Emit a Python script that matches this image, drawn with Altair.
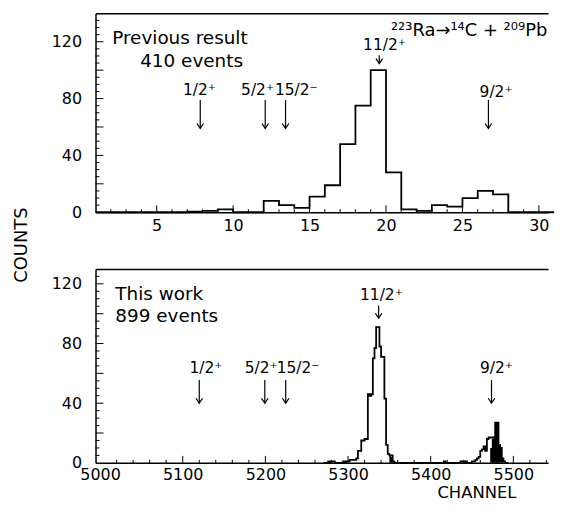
import altair as alt
import pandas as pd

FONT = "DejaVu Sans"

# ---------------- data ----------------
# Previous result: unit-wide bins, left edges 1..30
prev_bin_start = 1
prev_bin_width = 1
prev_counts = [0, 0, 0, 0, 0, 0, 0.5, 1, 2, 0, 0, 8, 5, 3, 11, 19, 48, 75, 100, 28,
               2, 1, 5, 4, 10, 15, 12.5, 0, 0, 0]

# This work: 2-channel bins
this_bin_width = 2
this_a_start = 5270
this_a_counts = [0, 0, 0, 1, 0, 1, 1, 0, 0, 0, 0, 0, 1, 0, 1, 1, 2, 2, 2, 2,
                 3, 8, 8, 15, 15, 16, 16, 46, 45, 46, 70, 77, 91, 91, 78, 71, 71, 43, 12, 6,
                 5, 5, 1, 0, 0]
this_b_start = 5410
this_b_counts = [0, 0, 0, 1, 0, 0, 0, 0, 0, 0, 0, 0, 0, 1, 1, 0, 1, 0, 0, 0,
                 1, 1, 2, 3, 4, 8, 9, 11, 8, 16, 17, 17, 17, 17, 27, 27, 12, 10, 3, 1,
                 0, 0]
# filled (black) part of the spectrum
fill_a_start = 5350
fill_a_counts = [5, 4]
fill_b_start = 5472
fill_b_counts = [10, 16, 17, 27, 27, 12, 10, 3]

# level labels and arrows
states = ["1/2⁺", "5/2⁺", "15/2⁻", "11/2⁺", "9/2⁺"]
prev_arrow_x = [7.85, 12.1, 13.43, 19.56, 26.7]
prev_arrow_top = [79, 79, 79, 110.4, 79]
prev_arrow_tip = [59, 59, 59, 104.6, 59]
prev_label_x = [7.8, 11.6, 14.13, 19.9, 27.2]
prev_label_y = [82.4, 82.4, 82.4, 113.9, 81.2]

this_arrow_x = [5120, 5199.3, 5224.6, 5337, 5473.6]
this_arrow_top = [55.5, 55.5, 55.5, 105.5, 55.5]
this_arrow_tip = [40, 40, 40, 97, 40]
this_label_x = [5128, 5195, 5239.5, 5340.4, 5479.6]
this_label_y = [60, 60, 60, 108.9, 60]

prev_texts = ["Previous result", "410 events"]
prev_text_x = [2.09, 3.92]
prev_text_y = [118.3, 102.2]
reaction_text = "²²³Ra→¹⁴C + ²⁰⁹Pb"
reaction_x = 30.55
reaction_y = 123.7

this_texts = ["This work", "899 events"]
this_text_x = [5018.5, 5018.5]
this_text_y = [108.9, 94.5]

prev_x_labels = [5, 10, 15, 20, 25, 30]
this_x_labels = [5000, 5100, 5200, 5300, 5400, 5500]
y_labels = [0, 40, 80, 120]

prev_xdom = [1, 30.6]
prev_ydom = [0, 140]
this_xdom = [4994.5, 5542]
this_ydom = [0, 130]

W = 455
H_TOP = 200
H_BOT = 195


def step_df(start, width, counts):
    edges = [start + i * width for i in range(len(counts) + 1)]
    return pd.DataFrame({"x": edges, "c": list(counts) + [0]})


prev_hist = step_df(prev_bin_start, prev_bin_width, prev_counts)
this_hist = pd.concat([step_df(this_a_start, this_bin_width, this_a_counts),
                       step_df(this_b_start, this_bin_width, this_b_counts)])
this_fill = pd.concat([step_df(fill_a_start, this_bin_width, fill_a_counts),
                       step_df(fill_b_start, this_bin_width, fill_b_counts)])

ARROW = "M-1,-1.5L0,0L1,-1.5"


def panel(hist, fill, xdom, ydom, h, xlabels, arrows, labels, texts, extra_text,
          xminor, xmajor, yminor, ymajor, xtitle, ytitle, xpad):
    xs = alt.Scale(domain=xdom, nice=False, zero=False)
    ys = alt.Scale(domain=ydom, nice=False, zero=False)
    xax = dict(values=xlabels, format="d", labelFlush=False, ticks=False, tickSize=0,
               labelPadding=xpad, grid=False, domain=True)
    if xtitle:
        xax.update(title=xtitle, titleX=383, titleY=34.5, titleBaseline="alphabetic",
                   titleAlign="center", titleFontSize=16.5)
    else:
        xax.update(title=None)
    yax = dict(values=y_labels, ticks=False, tickSize=0, labelPadding=14, grid=False,
               domain=True, labelFlush=False)
    if ytitle:
        yax.update(title=ytitle, titleX=-69, titleY=-24.5, titleAngle=270,
                   titleBaseline="alphabetic", titleAlign="center")
    else:
        yax.update(title=None)

    layers = []
    if fill is not None:
        layers.append(alt.Chart(fill).mark_area(interpolate="step-after", color="black")
                      .encode(x=alt.X("x:Q", scale=xs, axis=None),
                              y=alt.Y("c:Q", scale=ys, axis=None)))
    layers.append(alt.Chart(hist).mark_line(interpolate="step-after", color="black",
                                            strokeWidth=1.8)
                  .encode(x=alt.X("x:Q", scale=xs, axis=alt.Axis(**xax)),
                          y=alt.Y("c:Q", scale=ys, axis=alt.Axis(**yax))))
    # top frame line
    layers.append(alt.Chart(pd.DataFrame({"x": [xdom[0]]})).mark_point(opacity=0)
                  .encode(x=alt.X("x:Q", scale=xs,
                                  axis=alt.Axis(orient="top", labels=False, ticks=False,
                                                domain=True, title=None, grid=False,
                                                minExtent=0, maxExtent=0))))
    # inward ticks
    for vals, ln in ((xminor, 3), (xmajor, 7)):
        layers.append(alt.Chart(pd.DataFrame({"x": vals})).mark_rule(color="black",
                                                                      strokeWidth=1)
                      .encode(x=alt.X("x:Q", scale=xs, axis=None),
                              y=alt.value(h), y2=alt.value(h - ln)))
    for vals, ln in ((yminor, 4), (ymajor, 8)):
        layers.append(alt.Chart(pd.DataFrame({"y": vals})).mark_rule(color="black",
                                                                      strokeWidth=1)
                      .encode(y=alt.Y("y:Q", scale=ys, axis=None),
                              x=alt.value(0), x2=alt.value(ln)))
    # arrows
    layers.append(alt.Chart(arrows).mark_rule(color="black", strokeWidth=1.2)
                  .encode(x=alt.X("x:Q", scale=xs, axis=None),
                          y=alt.Y("top:Q", scale=ys, axis=None), y2="tip:Q"))
    layers.append(alt.Chart(arrows).mark_point(shape=ARROW, filled=False, size=44,
                                               color="black", strokeWidth=1.2, opacity=1)
                  .encode(x=alt.X("x:Q", scale=xs, axis=None),
                          y=alt.Y("tip:Q", scale=ys, axis=None)))
    layers.append(alt.Chart(labels).mark_text(font=FONT, fontSize=15.5, align="center",
                                              baseline="alphabetic", color="black")
                  .encode(x=alt.X("x:Q", scale=xs, axis=None),
                          y=alt.Y("y:Q", scale=ys, axis=None), text="t:N"))
    layers.append(alt.Chart(texts).mark_text(font=FONT, fontSize=18.5, align="left",
                                             baseline="alphabetic", color="black")
                  .encode(x=alt.X("x:Q", scale=xs, axis=None),
                          y=alt.Y("y:Q", scale=ys, axis=None), text="t:N"))
    if extra_text is not None:
        layers.append(alt.Chart(extra_text).mark_text(font=FONT, fontSize=18, align="right",
                                                      baseline="alphabetic", color="black")
                      .encode(x=alt.X("x:Q", scale=xs, axis=None),
                              y=alt.Y("y:Q", scale=ys, axis=None), text="t:N"))
    return (alt.layer(*layers)
            .resolve_axis(x="independent", y="independent")
            .properties(width=W, height=h))


prev_arrows = pd.DataFrame({"x": prev_arrow_x, "top": prev_arrow_top, "tip": prev_arrow_tip})
prev_labels = pd.DataFrame({"x": prev_label_x, "y": prev_label_y, "t": states})
prev_text_df = pd.DataFrame({"x": prev_text_x, "y": prev_text_y, "t": prev_texts})
reaction_df = pd.DataFrame({"x": [reaction_x], "y": [reaction_y], "t": [reaction_text]})

this_arrows = pd.DataFrame({"x": this_arrow_x, "top": this_arrow_top, "tip": this_arrow_tip})
this_labels = pd.DataFrame({"x": this_label_x, "y": this_label_y, "t": states})
this_text_df = pd.DataFrame({"x": this_text_x, "y": this_text_y, "t": this_texts})

top = panel(prev_hist, None, prev_xdom, prev_ydom, H_TOP, prev_x_labels, prev_arrows,
            prev_labels, prev_text_df, reaction_df,
            [v for v in range(2, 31) if v % 5], list(range(5, 31, 5)),
            [v for v in range(5, 140, 5) if v % 20], list(range(20, 140, 20)),
            None, None, 5)

bottom = panel(this_hist, this_fill, this_xdom, this_ydom, H_BOT, this_x_labels, this_arrows,
               this_labels, this_text_df, None,
               [v for v in range(5020, 5542, 20) if v % 100], list(range(5100, 5542, 100)),
               [v for v in range(5, 130, 5) if v % 20], list(range(20, 130, 20)),
               "CHANNEL", "COUNTS", 4)

chart = (alt.vconcat(top, bottom, spacing=57, bounds="flush")
         .properties(padding={"left": 5, "top": 4, "right": 0, "bottom": 0})
         .configure_view(stroke=None)
         .configure_axis(labelFont=FONT, labelFontSize=16, labelColor="black",
                         titleFont=FONT, titleFontSize=18, titleColor="black",
                         titleFontWeight="normal", domainColor="black", domainWidth=1.5))

chart.save("out.html", embed_options={"renderer": "svg", "actions": False})
